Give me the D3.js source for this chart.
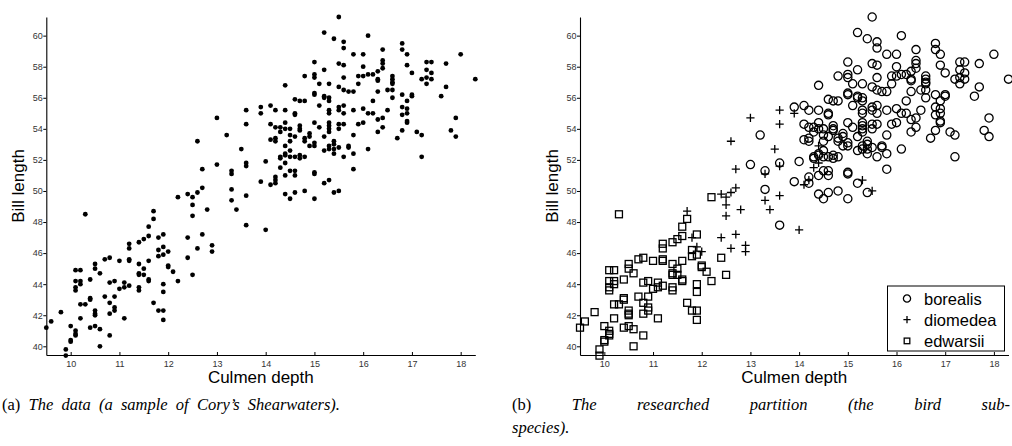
<!DOCTYPE html>
<html>
<head>
<meta charset="utf-8">
<script src="https://cdn.jsdelivr.net/npm/d3@7"></script>
<style>
  body { margin: 0; background: #fff; }
  svg { font-family: "Liberation Sans", Arial, sans-serif; }
  .caption { font-family: "Liberation Serif", "DejaVu Serif", serif; font-size: 16.5px; }
</style>
</head>
<body>
<div id="main"></div>
<script>
// [culmen depth, bill length] per sub-species
const borealis = [
  [13.2,53.6],[13.0,51.7],[13.3,51.3],[13.6,51.8],[13.3,50.1],[13.6,47.8],[13.9,55.4],[13.9,50.6],
  [14.0,51.9],[14.2,50.9],[14.2,50.5],[14.4,49.8],[14.5,49.5],[14.6,49.9],[14.8,50.0],[15.0,49.5],
  [15.2,50.5],[15.4,49.9],
  [15.5,61.2],[15.2,60.2],[16.1,60.0],[15.4,59.8],[15.6,59.6],[15.6,59.2],[16.8,59.5],[16.8,59.1],
  [16.9,58.8],[16.4,59.1],[15.8,58.8],[16.0,58.8],[18.0,58.8],[16.4,58.4],[16.4,58.2],[16.4,57.9],
  [15.0,58.3],[15.5,58.2],[15.6,58.1],[15.2,57.8],[16.0,58.0],[16.9,58.1],[17.3,58.3],[17.4,58.3],
  [17.7,58.2],[17.3,57.8],[17.4,57.6],[17.0,57.6],[17.2,57.2],[17.3,57.3],[17.4,57.2],[17.3,56.9],
  [18.3,57.2],[17.7,56.7],[17.6,56.1],[14.8,57.4],[15.0,57.5],[15.0,57.3],[14.4,56.8],[15.1,56.9],
  [15.3,56.9],[15.6,57.3],[15.5,56.7],[15.9,57.4],[16.0,57.4],[16.1,57.5],[16.2,57.5],[16.3,57.7],
  [16.3,57.2],[16.3,57.1],[16.6,57.4],[16.6,57.2],[16.6,57.0],[16.6,56.9],[15.9,56.9],[15.6,56.5],
  [15.7,56.4],[15.8,56.4],[16.3,56.4],[16.5,56.5],[16.6,56.5],[16.8,56.2],[17.0,56.2],[17.0,56.1],
  [16.6,56.0],[16.9,55.8],[16.2,55.8],[14.6,55.9],[14.7,55.8],[14.8,55.8],[15.0,56.3],[15.0,56.2],
  [15.2,56.1],[15.2,56.0],[15.3,56.0],[15.3,55.8],[15.1,55.5],[15.3,55.2],[15.3,55.0],[15.5,55.4],
  [15.5,55.2],[15.6,55.5],[15.6,55.0],[15.8,55.2],[16.0,55.3],[16.1,55.0],[16.2,55.0],[16.5,55.2],
  [16.8,55.4],[16.9,55.3],[16.9,55.0],[16.8,54.9],[16.9,54.5],[16.9,54.4],[16.4,54.7],[16.3,54.6],
  [16.4,54.1],[16.3,53.8],[16.0,54.4],[15.9,54.3],[15.8,53.6],[15.6,54.3],[15.5,54.3],[15.3,54.4],
  [15.3,54.2],[15.3,54.0],[15.3,53.8],[15.5,54.0],[15.1,54.1],[15.0,54.4],[15.2,53.5],[14.6,54.9],
  [14.6,55.0],[14.4,55.2],[14.2,55.2],[14.1,55.5],[14.1,54.3],[14.2,54.1],[14.3,54.1],[14.3,53.8],
  [14.4,54.0],[14.1,53.3],[14.2,53.4],[14.2,53.2],[14.5,54.0],[14.5,53.6],[14.5,53.2],[14.4,54.4],
  [14.6,53.5],[14.7,54.2],[14.7,54.0],[14.7,53.9],[14.8,53.4],[14.8,53.2],[14.9,53.7],[14.9,53.5],
  [15.0,53.1],[15.0,52.9],[14.9,52.9],[15.2,52.6],[15.3,52.7],[15.3,52.9],[15.4,53.0],[15.4,53.2],
  [15.4,52.7],[15.4,52.4],[15.5,52.8],[15.7,52.9],[15.7,52.8],[15.6,52.2],[15.8,52.4],[16.1,52.7],
  [17.2,52.2],[16.7,53.4],[16.8,53.9],[17.1,53.8],[17.2,53.6],[17.8,53.9],[17.9,54.7],[17.9,53.5],
  [14.3,52.2],[14.3,52.1],[14.4,52.3],[14.4,52.4],[14.5,52.6],[14.5,52.2],[14.6,52.2],[14.7,52.3],
  [14.7,52.1],[14.8,52.2],[14.4,51.0],[14.5,51.3],[14.6,51.3],[14.6,51.0],[15.0,51.2],[15.0,51.1],
  [15.8,51.4]
];
const diomedea = [
  [11.7,48.7],[11.8,47.0],[11.9,46.4],[12.0,46.1],[12.4,49.8],[12.5,49.6],[12.6,49.9],[12.7,50.2],
  [12.5,49.1],[12.5,48.4],[12.8,48.8],[12.4,47.0],[12.7,47.2],[12.6,46.3],[12.9,46.5],[12.9,46.1],
  [13.0,54.7],[12.6,53.2],[12.7,51.4],[13.6,55.2],[13.6,54.3],[13.9,55.0],[13.5,52.7],[13.3,51.1],
  [13.6,51.6],[13.3,49.4],[13.6,49.7],[13.4,48.8],[14.0,47.5],[14.1,50.4],[14.2,50.7],[14.4,52.9],
  [14.4,51.8],[14.3,51.5],[15.3,50.7],[15.5,50.0]
];
const edwarsii = [
  [9.5,41.2],[9.6,41.6],[9.8,42.2],[9.9,39.8],[9.9,39.4],[10.0,41.3],[10.0,40.4],[10.0,40.3],
  [10.1,41.0],[10.1,40.8],[10.1,40.7],[10.1,44.9],[10.2,44.9],[10.1,44.2],[10.1,43.8],[10.1,43.6],
  [10.2,44.2],[10.2,44.0],[10.2,42.7],[10.3,42.7],[10.2,41.8],[10.3,48.5],[10.4,44.3],[10.4,43.1],
  [10.4,43.0],[10.4,41.2],[10.5,45.3],[10.5,45.0],[10.5,42.3],[10.5,42.1],[10.5,42.0],[10.5,41.3],
  [10.6,44.7],[10.6,41.1],[10.6,40.0],[10.7,45.6],[10.7,43.2],[10.8,45.7],[10.8,44.1],[10.8,42.8],
  [10.8,42.1],[10.8,40.7],[10.9,44.2],[10.9,43.2],[10.9,42.5],[10.9,42.3],[11.0,45.5],[11.0,43.7],
  [11.1,44.1],[11.1,43.8],[11.1,41.8],[11.2,46.6],[11.2,46.3],[11.2,45.6],[11.2,45.5],[11.2,43.9],
  [11.4,46.7],[11.4,45.3],[11.4,44.7],[11.4,44.6],[11.4,43.8],[11.4,43.6],[11.5,46.9],[11.5,45.0],
  [11.5,44.6],[11.6,47.7],[11.6,47.1],[11.6,45.5],[11.6,44.3],[11.6,44.2],[11.7,48.2],[11.7,42.8],
  [11.8,46.2],[11.8,45.8],[11.8,42.3],[11.9,47.2],[11.9,45.9],[11.9,44.0],[11.9,43.5],[11.9,42.3],
  [11.9,41.7],[12.0,45.2],[12.0,45.1],[12.1,44.8],[12.2,49.6],[12.2,44.2],[12.4,45.7],[12.5,44.6]
];
const species = ["borealis", "diomedea", "edwarsii"];
const xTicks = [10, 11, 12, 13, 14, 15, 16, 17, 18];
const yTicks = [40, 42, 44, 46, 48, 50, 52, 54, 56, 58, 60];
const xLabel = "Culmen depth";
const yLabel = "Bill length";
const captionA = ["(a)", "The data (a sample of Cory\u2019s Shearwaters)."];
const captionB = ["(b)", "The researched partition (the bird sub-", "species)."];

const ctx = { WIDTH: 1012, HEIGHT: 446 };

function marker(sel, kind, s) {
    // s = half size of the glyph
    if (kind === "borealis") {
        sel.append("circle").attr("r", s).attr("fill", "none")
            .attr("stroke", "#000").attr("stroke-width", 1.3);
    } else if (kind === "diomedea") {
        sel.append("path").attr("d", `M${-s},0H${s}M0,${-s}V${s}`)
            .attr("fill", "none").attr("stroke", "#000").attr("stroke-width", 1.3);
    } else {
        sel.append("rect").attr("x", -s * 0.85).attr("y", -s * 0.85)
            .attr("width", s * 1.7).attr("height", s * 1.7)
            .attr("fill", "none").attr("stroke", "#000").attr("stroke-width", 1.3);
    }
}

function drawPanel(svg, left, right, coloured) {
    const x = d3.scaleLinear().domain([9.5, 18.3]).range([left, right]);
    const y = d3.scaleLinear().domain([39.44, 61.2]).range([355, 17]);
    const g = svg.append("g");

    // axes: y ticks outward, x ticks inward
    const ax = g.append("g").attr("transform", "translate(0,355)")
        .call(d3.axisBottom(x).tickValues(xTicks).tickSize(-3).tickSizeOuter(0).tickPadding(5.5));
    const ay = g.append("g").attr("transform", `translate(${left},0)`)
        .call(d3.axisLeft(y).tickValues(yTicks).tickSize(3).tickSizeOuter(0).tickPadding(0.5));
    [ax, ay].forEach(a => {
        a.attr("font-family", null).attr("font-size", null);
        a.selectAll("text").style("font-size", "9px").attr("fill", "#333");
        a.select(".domain").attr("stroke", "#000").attr("stroke-width", 1.1);
        a.selectAll(".tick line").attr("stroke", "#000");
    });

    g.append("text").attr("x", (left + right) / 2).attr("y", 383)
        .attr("text-anchor", "middle").style("font-size", "17px").text(xLabel);
    g.append("text").attr("transform", `translate(${left - 22},186) rotate(-90)`)
        .attr("text-anchor", "middle").style("font-size", "17px").text(yLabel);

    if (!coloured) {
        const all = borealis.concat(diomedea, edwarsii);
        g.append("g").selectAll("circle").data(all).enter().append("circle")
            .attr("cx", d => x(d[0])).attr("cy", d => y(d[1]))
            .attr("r", 2.4).attr("fill", "#000");
        return;
    }
    const groups = { borealis: borealis, diomedea: diomedea, edwarsii: edwarsii };
    ["edwarsii", "diomedea", "borealis"].forEach(k => {
        g.append("g").selectAll("g").data(groups[k]).enter().append("g")
            .attr("transform", d => `translate(${x(d[0])},${y(d[1])})`)
            .each(function () { marker(d3.select(this), k, 4.1); });
    });

    // legend
    const lg = g.append("g");
    lg.append("rect").attr("x", 887.5).attr("y", 286).attr("width", 117).attr("height", 65)
        .attr("fill", "#fff").attr("stroke", "#000").attr("stroke-width", 1);
    species.forEach((s, i) => {
        const cy = 298.5 + i * 21.2;
        const m = lg.append("g").attr("transform", `translate(907,${cy})`);
        marker(m, s, s === "edwarsii" ? 3.3 : 3.6);
        lg.append("text").attr("x", 924).attr("y", cy + 6).style("font-size", "16.5px").text(s);
    });
}

function caption(svg, parts, x, y, width) {
    const t = svg.append("text").attr("class", "caption").attr("x", x).attr("y", y);
    t.append("tspan").text(parts[0] + " ");
    t.append("tspan").style("font-style", "italic").text(parts[1]);
    const len = t.node().getComputedTextLength();
    const spaces = (parts[0] + " " + parts[1]).split(" ").length - 1;
    t.style("word-spacing", ((width - len) / spaces) + "px");
    return t;
}

function createViz() {
    const svg = d3.select("#main").append("svg")
        .attr("width", ctx.WIDTH).attr("height", ctx.HEIGHT);
    drawPanel(svg, 46.3, 475.3, false);
    drawPanel(svg, 580, 1008.5, true);

    caption(svg, captionA, 2, 410, 338);
    caption(svg, captionB.slice(0, 2), 512, 410, 498);
    svg.append("text").attr("class", "caption").attr("x", 512).attr("y", 433)
        .style("font-style", "italic").text(captionB[2]);
}

createViz();
</script>
</body>
</html>
